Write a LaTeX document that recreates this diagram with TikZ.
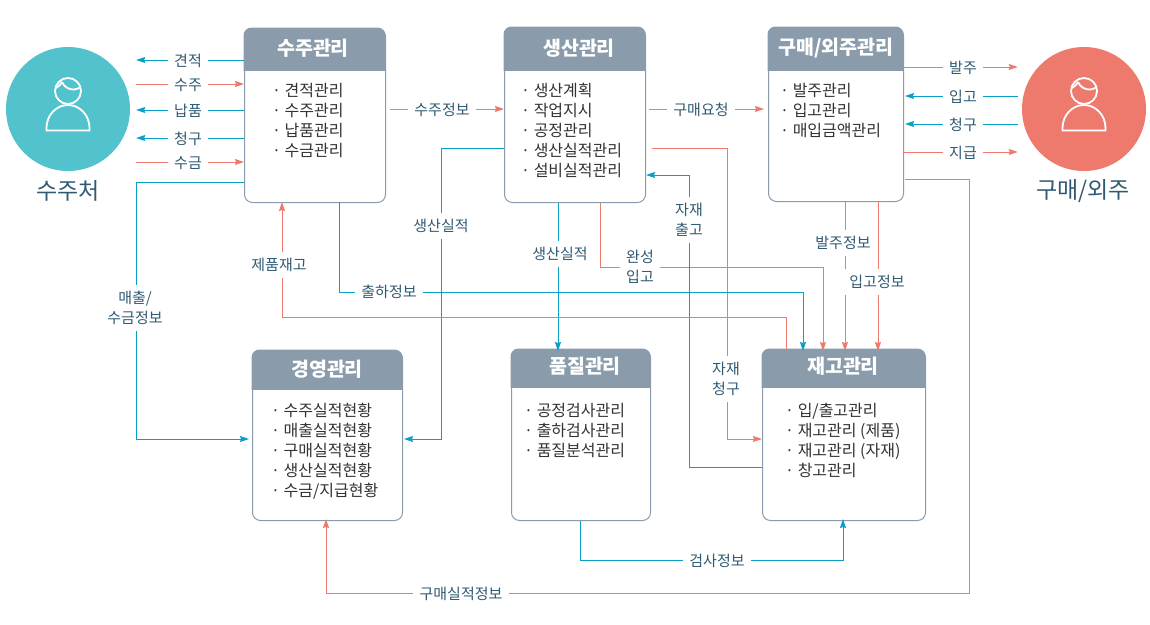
\documentclass[tikz,border=0pt]{standalone}
\usepackage{fontspec}
\setmainfont{Noto Sans CJK KR}
\usetikzlibrary{arrows.meta}
\definecolor{cteal}{HTML}{52C3CC}
\definecolor{csalmon}{HTML}{EE7A6D}
\definecolor{cblue}{HTML}{0A9FC9}
\definecolor{chead}{HTML}{8A9CAB}
\definecolor{clabel}{HTML}{2F5A72}
\definecolor{cbody}{HTML}{333333}
\tikzset{
  boxframe/.style={draw=chead,line width=1pt,fill=white,rounded corners=8pt,inner sep=0pt,anchor=north west},
  headtitle/.style={text=white,font=\fontsize{19.5}{22}\selectfont\bfseries,inner sep=0pt},
  bodytext/.style={text=cbody,font=\fontsize{16}{20}\selectfont,align=left,anchor=north west,inner sep=0pt},
  conlabel/.style={text=clabel,fill=white,font=\fontsize{15}{20}\selectfont,align=center,inner xsep=6.5pt,inner ysep=6pt,yshift=-1pt},
  bigname/.style={text=clabel,font=\fontsize{23}{26}\selectfont,inner sep=0pt},
  disc/.style={circle,inner sep=0pt,minimum size=124pt},
  sline/.style={draw=csalmon,line width=1pt},
  bline/.style={draw=cblue,line width=1pt},
  sarrow/.style={sline,-{Stealth[length=9pt,width=6pt,inset=1pt,fill=csalmon]}},
  barrow/.style={bline,-{Stealth[length=9pt,width=6pt,inset=1pt,fill=cblue]}},
  icon/.style={draw=white,line width=1.8pt}
}
\newcommand{\mgmt}[9]{%name x1 y1 x2 y2 yh title titlepos items
  \pgfmathsetmacro{\ww}{#4-#2}\pgfmathsetmacro{\hh}{#5-#3}
  \node[boxframe,minimum width=\ww pt,minimum height=\hh pt] (#1) at (#2,#3) {};
  \begin{scope}
    \clip (#2-2,#3-2) rectangle (#4+2,#6);
    \fill[chead,rounded corners=8pt] (#2-.5,#3-.5) rectangle (#4+.5,#5);
  \end{scope}
  \node[headtitle] (#1-title) at (#8) {#7};
  #9
}
\newcommand{\person}[2]{%
  \draw[icon] (#1,#2-18) circle (13pt);
  \draw[icon] (#1-21.5,#2+21.5) -- (#1-21.5,#2+19) arc (180:0:21.5pt and 23pt) -- (#1+21.5,#2+21.5) -- cycle;
  \draw[icon] (#1-6,#2-27) .. controls (#1-3,#2-20) and (#1+6,#2-17) .. (#1+12.5,#2-22);
  \draw[icon] (#1-6,#2-27) .. controls (#1-7,#2-25) and (#1-9,#2-23) .. (#1-12,#2-21);
}
\begin{document}
\begin{tikzpicture}[x=1pt,y=-1pt]
\useasboundingbox (0,0) rectangle (1150,624);
% circles
\node[disc,fill=cteal] (cl) at (68,109) {};
\node[disc,fill=csalmon] (cr) at (1084,109) {};
\person{68}{109}
\person{1084}{109}
\node[bigname] (clname) at (68,191) {수주처};
\node[bigname] (crname) at (1083,191) {구매/외주};
% boxes
\mgmt{order}{244}{28}{385}{202}{70}{수주관리}{313,48}{\node[bodytext] (orderbody) at (272,83) {· 견적관리\\· 수주관리\\· 납품관리\\· 수금관리};}
\mgmt{prod}{504}{27}{645}{202}{70}{생산관리}{579,48}{\node[bodytext] (prodbody) at (521,83) {· 생산계획\\· 작업지시\\· 공정관리\\· 생산실적관리\\· 설비실적관리};}
\mgmt{buy}{768}{27}{903}{201}{70}{구매/외주관리}{836,48}{\node[bodytext] (buybody) at (780,83) {· 발주관리\\· 입고관리\\· 매입금액관리};}
\mgmt{exec}{252}{350}{402}{520}{389}{경영관리}{327,369}{\node[bodytext] (execbody) at (271,403) {· 수주실적현황\\· 매출실적현황\\· 구매실적현황\\· 생산실적현황\\· 수금/지급현황};}
\mgmt{qual}{511}{349}{650}{520}{387}{품질관리}{585,366}{\node[bodytext] (qualbody) at (524,403) {· 공정검사관리\\· 출하검사관리\\· 품질분석관리};}
\mgmt{stock}{762}{349}{925}{520}{387}{재고관리}{843,366}{\node[bodytext] (stockbody) at (785,403) {· 입/출고관리\\· 재고관리 (제품)\\· 재고관리 (자재)\\· 창고관리};}
% left
\draw[barrow] (order.west |- 0,60) -- ([xshift=6pt]cl.east |- 0,60);
\draw[sarrow] ([xshift=6pt]cl.east |- 0,84) -- (order.west |- 0,84);
\draw[barrow] (order.west |- 0,110) -- ([xshift=6pt]cl.east |- 0,110);
\draw[barrow] (order.west |- 0,138) -- ([xshift=6pt]cl.east |- 0,138);
\draw[sarrow] ([xshift=6pt]cl.east |- 0,162) -- (order.west |- 0,162);
\draw[barrow] (order.west |- 0,182) -- (136,182) -- (136,439) -- ([xshift=-3pt]exec.west |- 0,439);
% middle horizontals
\draw[sarrow] ([xshift=4pt]order.east |- 0,109) -- (prod.west |- 0,109);
\draw[sarrow] ([xshift=3pt]prod.east |- 0,109) -- ([xshift=-4pt]buy.west |- 0,109);
% right
\draw[sarrow] (buy.east |- 0,67) -- ([xshift=-4pt]cr.west |- 0,67);
\draw[barrow] ([xshift=-4pt]cr.west |- 0,96) -- ([xshift=1pt]buy.east |- 0,96);
\draw[barrow] ([xshift=-4pt]cr.west |- 0,124) -- ([xshift=1pt]buy.east |- 0,124);
\draw[sarrow] (buy.east |- 0,152) -- ([xshift=-4pt]cr.west |- 0,152);
\draw[sarrow] ([xshift=1pt]buy.east |- 0,179) -- (969,179) -- (969,593) -- (326,593) -- ([yshift=2pt]exec.south -| 326,0);
% production links
\draw[barrow] (prod.west |- 0,148) -- (441,148) -- (441,439) -- ([xshift=1pt]exec.east |- 0,439);
\draw[barrow] (prod.south -| 558,0) -- ([yshift=-2pt]qual.north -| 558,0);
\draw[sarrow] (prod.south -| 600,0) -- (600,267) -- (823,267) -- ([yshift=-2pt]stock.north -| 823,0);
\draw[barrow] (stock.west |- 0,467) -- (689,467) -- (689,175) -- (prod.east |- 0,175);
\draw[sarrow] ([xshift=6pt]prod.east |- 0,148) -- (727,148) -- (727,439) -- (stock.west |- 0,439);
% order links
\draw[barrow] ([yshift=1pt]order.south -| 339,0) -- (339,292) -- (803,292) -- ([yshift=-2pt]stock.north -| 803,0);
\draw[sarrow] ([yshift=-1pt]stock.north -| 786,0) -- (786,317) -- (282,317) -- ([yshift=1pt]order.south -| 282,0);
% purchase links
\draw[sarrow] (buy.south -| 845,0) -- ([yshift=-2pt]stock.north -| 845,0);
\draw[sarrow] (buy.south -| 878,0) -- ([yshift=-2pt]stock.north -| 878,0);
% quality
\draw[barrow] ([yshift=0pt]qual.south -| 580,0) -- (580,560) -- (843,560) -- ([yshift=2pt]stock.south -| 843,0);
% labels
\node[conlabel] (l1) at (188,60) {견적};
\node[conlabel] (l2) at (188,84) {수주};
\node[conlabel] (l3) at (188,110) {납품};
\node[conlabel] (l4) at (188,138) {청구};
\node[conlabel] (l5) at (188,162) {수금};
\node[conlabel] (l6) at (135,307) {매출/\\수금정보};
\node[conlabel] (l7) at (442,109) {수주정보};
\node[conlabel] (l8) at (701,109) {구매요청};
\node[conlabel] (r1) at (963,67) {발주};
\node[conlabel] (r2) at (963,96) {입고};
\node[conlabel] (r3) at (963,124) {청구};
\node[conlabel] (r4) at (963,152) {지급};
\node[conlabel] (l9) at (461,593) {구매실적정보};
\node[conlabel] (l10) at (441,225) {생산실적};
\node[conlabel] (l11) at (560,253) {생산실적};
\node[conlabel] (l12) at (640,266) {완성\\입고};
\node[conlabel] (l13) at (689,219) {자재\\출고};
\node[conlabel] (l14) at (726,378) {자재\\청구};
\node[conlabel] (l15) at (389,291) {출하정보};
\node[conlabel] (l16) at (279,264) {제품재고};
\node[conlabel] (l17) at (843,242) {발주정보};
\node[conlabel] (l18) at (877,281) {입고정보};
\node[conlabel] (l19) at (717,560) {검사정보};
\end{tikzpicture}
\end{document}
